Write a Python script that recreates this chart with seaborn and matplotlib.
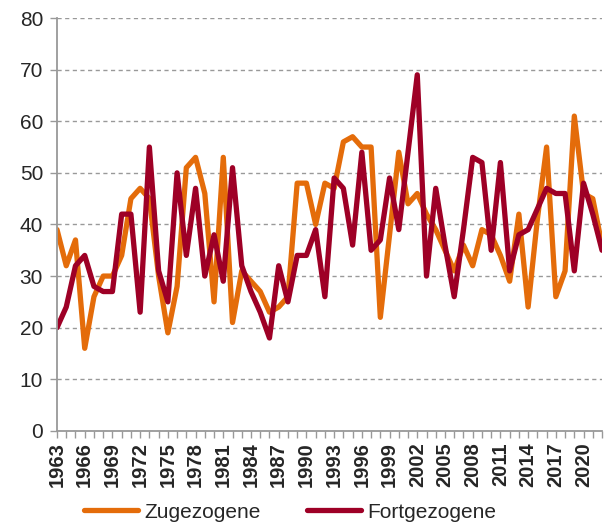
import numpy as np
import pandas as pd
import seaborn as sns
import matplotlib.pyplot as plt

years = list(range(1963, 2023))

zugezogene = [39, 32, 37, 16, 26, 30, 30, 34, 45, 47,
              45, 30, 19, 28, 51, 53, 46, 25, 53, 21,
              31, 29, 27, 23, 24, 26, 48, 48, 40, 48,
              47, 56, 57, 55, 55, 22, 38, 54, 44, 46,
              42, 39, 35, 31, 36, 32, 39, 38, 34, 29,
              42, 24, 41, 55, 26, 31, 61, 46, 45, 36]

fortgezogene = [20, 24, 32, 34, 28, 27, 27, 42, 42, 23,
                55, 31, 25, 50, 34, 47, 30, 38, 29, 51,
                32, 27, 23, 18, 32, 25, 34, 34, 39, 26,
                49, 47, 36, 54, 35, 37, 49, 39, 54, 69,
                30, 47, 36, 26, 39, 53, 52, 35, 52, 31,
                38, 39, 43, 47, 46, 46, 31, 48, 42, 35]

df = pd.DataFrame({'Jahr': years, 'Zugezogene': zugezogene, 'Fortgezogene': fortgezogene})
dfm = df.melt(id_vars='Jahr', var_name='Typ', value_name='Anzahl')

sns.set_theme(style='white')
plt.rcParams['font.family'] = ['Liberation Sans', 'DejaVu Sans']

fig = plt.figure(figsize=(6.11, 5.30), dpi=100)
ax = fig.add_axes([0.0933, 0.187, 0.892, 0.779])

sns.lineplot(data=dfm, x='Jahr', y='Anzahl', hue='Typ',
             palette={'Zugezogene': '#E46C0A', 'Fortgezogene': '#9E0026'},
             linewidth=3.8, ax=ax, legend=True)

ax.set_xlim(1963, 2022)
ax.set_ylim(0, 80)
ax.set_yticks(range(0, 81, 10))
ax.set_xticks(years, minor=True)
ax.set_xticks(years[::3])
ax.set_xticklabels([str(y) for y in years[::3]], rotation=90, fontweight='bold', fontsize=14.5)
ax.tick_params(axis='y', labelsize=15, length=5, width=1, color='#999999', direction='out', left=True, pad=5)
ax.tick_params(axis='x', which='both', length=5, width=1, color='#999999', direction='out', bottom=True, pad=3)
ax.set_xlabel('')
ax.set_ylabel('')

ax.grid(axis='y', linestyle=(0, (3, 2.5)), color='#999999', linewidth=1)
ax.set_axisbelow(True)
for s in ['top', 'right']:
    ax.spines[s].set_visible(False)
for s in ['left', 'bottom']:
    ax.spines[s].set_color('#999999')
    ax.spines[s].set_linewidth(1.3)

ax.legend(loc='lower center', bbox_to_anchor=(0.475, 0.0), bbox_transform=fig.transFigure,
          ncol=2, frameon=False, fontsize=15, handlelength=2.6, columnspacing=2.2,
          handletextpad=0.3, borderaxespad=0)

fig.savefig('out.png', dpi=100)
